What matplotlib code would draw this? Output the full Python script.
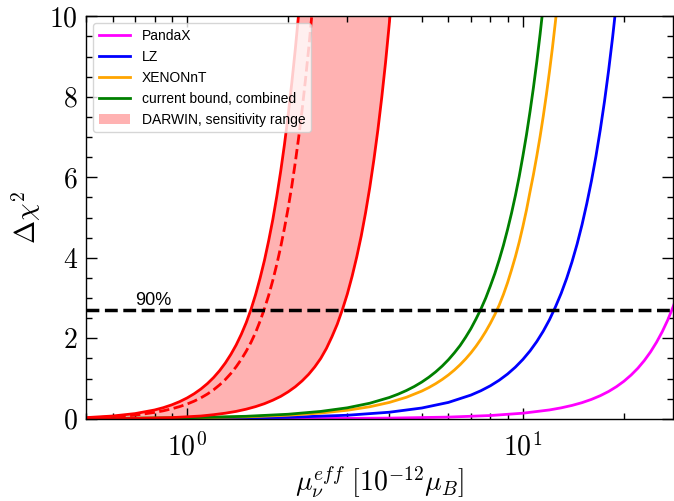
import numpy as np
import matplotlib
matplotlib.use('Agg')
import matplotlib.pyplot as plt
from matplotlib.ticker import FuncFormatter, MultipleLocator, NullFormatter

plt.rcParams['mathtext.fontset'] = 'cm'
plt.rcParams['font.family'] = ['Liberation Sans', 'DejaVu Sans']

# 90% C.L. threshold
cl90 = 2.71

# PandaX
pandax_mu = [0.5, 2, 4, 6, 8, 10, 12, 13, 14, 15, 16, 17, 18, 19, 20, 21, 22,
             23, 24, 25, 26, 27, 28, 29, 30]
pandax_chi2 = [0.0, 0.004, 0.018, 0.043, 0.082, 0.140, 0.221, 0.273, 0.333,
               0.402, 0.483, 0.575, 0.680, 0.800, 0.935, 1.088, 1.258, 1.450,
               1.664, 1.902, 2.165, 2.456, 2.779, 3.129, 3.514]

# LZ
lz_mu = [0.5, 1, 2, 3, 4, 5, 6, 7, 7.5, 8, 8.5, 9, 9.5, 10, 10.5, 11, 11.5,
         12, 12.5, 13, 13.5, 14, 14.5, 15, 15.5, 16, 16.5, 17, 17.5, 18, 18.5,
         19, 19.5, 20]
lz_chi2 = [0.002, 0.0095, 0.0385, 0.089, 0.164, 0.269, 0.408, 0.590, 0.699,
           0.821, 0.959, 1.113, 1.285, 1.476, 1.687, 1.921, 2.179, 2.463,
           2.78, 3.117, 3.49, 3.897, 4.34, 4.823, 5.35, 5.910, 6.52, 7.182,
           7.89, 8.657, 9.48, 10.36, 11.30, 12.31]

# XENONnT
xenon_mu = [0.5, 1.0, 1.5, 2.0, 2.5, 3.0, 3.5, 4.0, 4.5, 5.0, 5.25, 5.5, 5.75,
            6.0, 6.25, 6.5, 6.75, 7.0, 7.25, 7.5, 7.75, 8.0, 8.25, 8.5, 8.75,
            9.0, 9.25, 9.5, 9.75, 10.0, 10.25, 10.5, 10.75, 11.0, 11.25, 11.5,
            11.75, 12.0, 12.25, 12.5, 12.75, 13.0]
xenon_chi2 = [0.005, 0.022, 0.050, 0.090, 0.144, 0.213, 0.300, 0.407, 0.536,
              0.690, 0.778, 0.874, 0.978, 1.090, 1.212, 1.344, 1.486, 1.638,
              1.803, 1.98, 2.17, 2.373, 2.59, 2.824, 3.09, 3.38, 3.70, 4.03,
              4.39, 4.78, 5.19, 5.64, 6.07, 6.53, 7.01, 7.52, 8.06, 8.63,
              9.23, 9.87, 10.53, 11.23]

# current bound, combined
comb_mu = [0.5, 1.0, 1.5, 2.0, 2.5, 3.0, 3.5, 4.0, 4.25, 4.5, 4.75, 5.0, 5.25,
           5.5, 5.75, 6.0, 6.25, 6.5, 6.75, 7.0, 7.25, 7.5, 7.75, 8.0, 8.25,
           8.5, 8.75, 9.0, 9.25, 9.5, 9.75, 10.0, 10.25, 10.5, 10.75, 11.0,
           11.25, 11.5, 11.75, 12.0]
comb_chi2 = [0.007, 0.027, 0.063, 0.114, 0.184, 0.274, 0.388, 0.530, 0.613,
             0.704, 0.804, 0.914, 1.035, 1.167, 1.311, 1.468, 1.639, 1.82,
             2.025, 2.24, 2.48, 2.73, 3.00, 3.30, 3.61, 3.95, 4.31, 4.70,
             5.11, 5.55, 6.02, 6.53, 7.06, 7.63, 8.23, 8.87, 9.55, 10.27,
             11.02, 11.8]

# DARWIN sensitivity range (optimistic / central / conservative)
darwin_lo_mu = [0.5, 0.6, 0.7, 0.8, 0.85, 0.9, 0.95, 1.0, 1.05, 1.1, 1.15,
                1.2, 1.25, 1.3, 1.35, 1.4, 1.45, 1.5, 1.55, 1.6, 1.65, 1.7,
                1.75, 1.8, 1.85, 1.9, 1.95, 2.0, 2.05, 2.1, 2.15, 2.2]
darwin_lo_chi2 = [0.03, 0.07, 0.13, 0.22, 0.278, 0.347, 0.427, 0.519, 0.624,
                  0.743, 0.877, 1.028, 1.198, 1.388, 1.601, 1.835, 2.099,
                  2.39, 2.72, 3.09, 3.50, 3.94, 4.43, 4.95, 5.53, 6.15, 6.82,
                  7.55, 8.34, 9.18, 10.08, 11.06]

darwin_mid_mu = [0.5, 0.6, 0.7, 0.8, 0.85, 0.9, 0.95, 1.0, 1.05, 1.1, 1.15,
                 1.2, 1.25, 1.3, 1.35, 1.4, 1.45, 1.5, 1.55, 1.6, 1.65, 1.7,
                 1.75, 1.8, 1.85, 1.9, 1.95, 2.0, 2.05, 2.1, 2.15, 2.2, 2.25,
                 2.3, 2.35, 2.4]
darwin_mid_chi2 = [0.02, 0.05, 0.09, 0.16, 0.20, 0.249, 0.304, 0.367, 0.440,
                   0.523, 0.617, 0.723, 0.844, 0.977, 1.127, 1.294, 1.477,
                   1.680, 1.902, 2.147, 2.43, 2.74, 3.07, 3.44, 3.84, 4.27,
                   4.74, 5.24, 5.78, 6.37, 7.00, 7.67, 8.40, 9.17, 9.99, 10.87]

darwin_hi_mu = [0.5, 0.7, 0.9, 1.1, 1.2, 1.3, 1.4, 1.5, 1.6, 1.7, 1.8, 1.9,
                2.0, 2.1, 2.2, 2.3, 2.4, 2.5, 2.6, 2.7, 2.8, 2.9, 3.0, 3.1,
                3.2, 3.3, 3.4, 3.5, 3.6, 3.7, 3.8, 3.9, 4.0, 4.1]
darwin_hi_chi2 = [0.0, 0.01, 0.03, 0.07, 0.103, 0.14, 0.185, 0.24, 0.304,
                  0.377, 0.463, 0.558, 0.671, 0.797, 0.942, 1.104, 1.290,
                  1.50, 1.75, 2.04, 2.35, 2.71, 3.10, 3.54, 4.02, 4.54, 5.12,
                  5.75, 6.44, 7.18, 7.99, 8.86, 9.81, 10.83]

fig = plt.figure(figsize=(6.74, 5.01), dpi=100)
ax = fig.add_axes([0.1276, 0.164, 0.871, 0.8035])

# 曲線
ax.plot(pandax_mu, pandax_chi2, color='magenta', lw=2, label='PandaX')
ax.plot(lz_mu, lz_chi2, color='blue', lw=2, label='LZ')
ax.plot(xenon_mu, xenon_chi2, color='orange', lw=2, label='XENONnT')
ax.plot(comb_mu, comb_chi2, color='green', lw=2, label='current bound, combined')

# DARWIN band
band_x = darwin_lo_mu + darwin_hi_mu[::-1]
band_y = darwin_lo_chi2 + darwin_hi_chi2[::-1]
ax.fill(band_x, band_y, color='red', alpha=0.3, lw=0,
        label='DARWIN, sensitivity range')
ax.plot(darwin_lo_mu, darwin_lo_chi2, color='red', lw=2)
ax.plot(darwin_hi_mu, darwin_hi_chi2, color='red', lw=2)
ax.plot(darwin_mid_mu, darwin_mid_chi2, color='red', lw=2, ls='--')

# 90% line
ax.axhline(cl90, color='black', ls='--', lw=2.5)
ax.text(0.7, 2.82, '90%', fontsize=13)

ax.set_xscale('log')
ax.set_xlim(0.5, 28)
ax.set_ylim(0, 10)

ax.yaxis.set_major_locator(MultipleLocator(2))
ax.yaxis.set_minor_locator(MultipleLocator(0.5))
ax.xaxis.set_major_formatter(FuncFormatter(lambda v, p: r'$10^{%d}$' % round(np.log10(v))))
ax.xaxis.set_minor_formatter(NullFormatter())
ax.yaxis.set_major_formatter(FuncFormatter(lambda v, p: r'$%d$' % round(v)))

ax.tick_params(which='both', direction='in', top=True, right=True, labelsize=20)
ax.tick_params(which='major', length=8, width=1)
ax.tick_params(which='minor', length=4, width=1)
ax.tick_params(axis='x', pad=10)
ax.tick_params(axis='y', pad=6)
for s in ax.spines.values():
    s.set_linewidth(1)

ax.set_xlabel(r'$\mu_\nu^{eff}\ [10^{-12}\mu_B]$', fontsize=20, labelpad=2)
ax.set_ylabel(r'$\Delta\chi^2$', fontsize=20)

ax.legend(loc='upper left', fontsize=10, handlelength=2.3)

plt.savefig('out.png', dpi=100)
